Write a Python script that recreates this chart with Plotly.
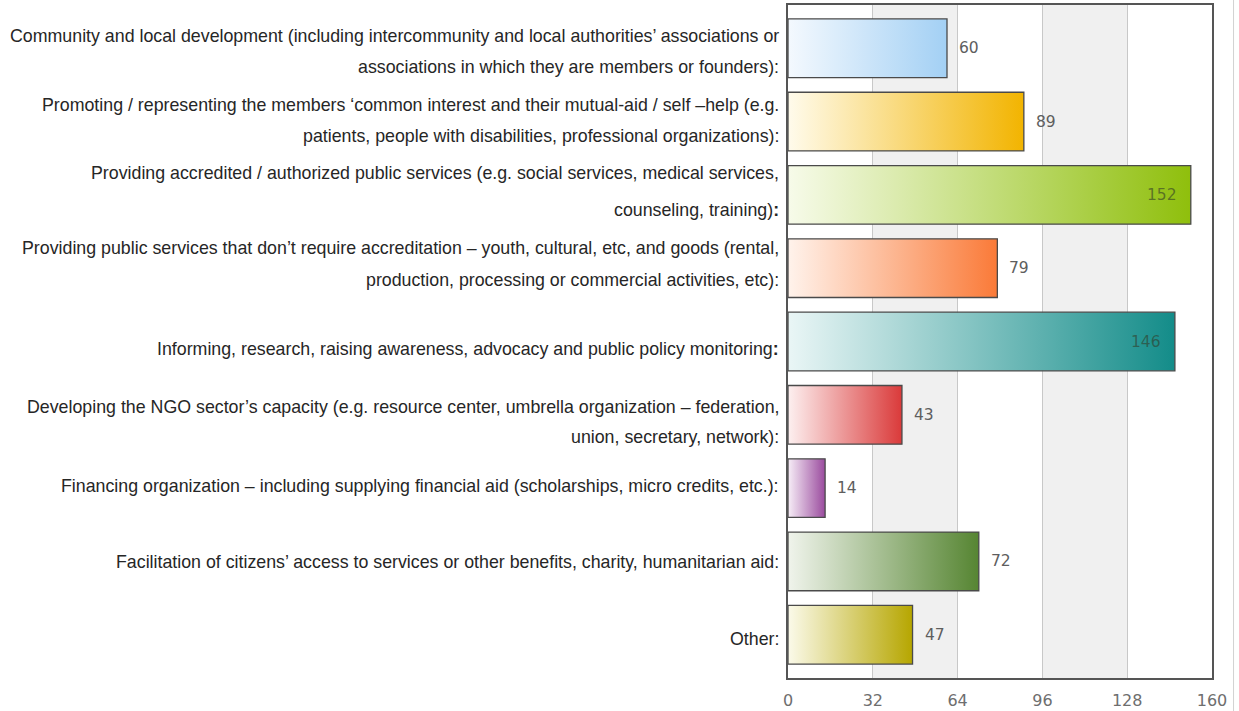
import plotly.graph_objects as go

# Activity areas of the organisations (top to bottom) and number of answers
categories = [
    "Community and local development (including intercommunity and local authorities\u2019 associations or<br>associations in which they are members or founders):",
    "Promoting / representing the members \u2018common interest and their mutual-aid / self \u2013help (e.g.<br>patients, people with disabilities, professional organizations):",
    "Providing accredited / authorized public services (e.g. social services, medical services,<br>counseling, training)<b>:</b>",
    "Providing public services that don\u2019t require accreditation \u2013 youth, cultural, etc, and goods (rental,<br>production, processing or commercial activities, etc):",
    "Informing, research, raising awareness, advocacy and public policy monitoring<b>:</b>",
    "Developing the NGO sector\u2019s capacity (e.g. resource center, umbrella organization \u2013 federation,<br>union, secretary, network):",
    "Financing organization \u2013 including supplying financial aid (scholarships, micro credits, etc.):",
    "Facilitation of citizens\u2019 access to services or other benefits, charity, humanitarian aid:",
    "Other:",
]
counts = [60, 89, 152, 79, 146, 43, 14, 72, 47]

x_ticks = [0, 32, 64, 96, 128, 160]

# Gradient colours of each bar: light start on the left, full colour on the right
bar_start_colors = ["#f4f9fe", "#fffbec", "#f7fbea", "#fff3ec", "#eaf6f6",
                    "#fdf0f0", "#f7eef7", "#f0f4ec", "#fbfaea"]
bar_end_colors = ["#a3d0f4", "#f2b400", "#8fbf0c", "#fa7a38", "#138c89",
                  "#da3a3a", "#9a4b9e", "#568532", "#b6a600"]

BAR_WIDTH = 0.8
# label block placement: vertical nudge (px, up is positive) and line spacing (px)
label_nudge = [-3, 1, 3, 4, -7, -7, 2.5, -1, -4.5]
label_gap = [31, 31, 37, 32, 31, 30, 31, 31, 31]

fig = go.Figure()

for i, (v, c0, c1) in enumerate(zip(counts, bar_start_colors, bar_end_colors)):
    y0, y1 = i - BAR_WIDTH / 2, i + BAR_WIDTH / 2
    fig.add_trace(go.Scatter(
        x=[0, v, v, 0, 0],
        y=[y0, y0, y1, y1, y0],
        mode="lines",
        fill="toself",
        fillgradient=dict(type="horizontal", colorscale=[[0, c0], [1, c1]]),
        line=dict(color="#4a4a4a", width=1.3),
        hoverinfo="skip",
        showlegend=False,
    ))

annotations = []
label_font = dict(family="Liberation Sans, Arial, sans-serif", size=17.8, color="#262626")
for i, label in enumerate(categories):
    lines = label.split("<br>")
    n = len(lines)
    gap = label_gap[i]
    for k, line in enumerate(lines):
        shift = (n - 1) / 2 * gap - k * gap + label_nudge[i]
        annotations.append(dict(
            x=0, xref="paper", y=i, yref="y",
            xanchor="right", yanchor="middle",
            xshift=-7, yshift=shift,
            text=line, showarrow=False, font=label_font,
        ))

# value labels: inside the bar end for long bars, otherwise just past the end
inside_limit = 0.85 * x_ticks[-1]
for i, v in enumerate(counts):
    inside = v > inside_limit
    annotations.append(dict(
        x=v, xref="x", y=i, yref="y",
        xanchor="right" if inside else "left", yanchor="middle",
        xshift=-12 if inside else 10,
        text=str(v), showarrow=False,
        font=dict(family="DejaVu Sans, Verdana, sans-serif", size=15.5,
                  color="rgba(50,60,40,0.6)" if inside else "#5e5e5e"),
    ))

shapes = []
# alternating shaded bands
for a, b in zip(x_ticks[1::2], x_ticks[2::2]):
    shapes.append(dict(type="rect", xref="x", yref="paper", x0=a, x1=b, y0=0, y1=1,
                       fillcolor="#f0f0f0", line=dict(width=0), layer="below"))
# thin separator on the far right
shapes.append(dict(type="line", xref="paper", yref="paper", x0=1.0508, x1=1.0508,
                   y0=-0.05, y1=1.01, line=dict(color="#d2d2d2", width=1)))

fig.update_layout(
    width=1239, height=711,
    margin=dict(l=788, r=27, t=5, b=33),
    paper_bgcolor="white", plot_bgcolor="white",
    annotations=annotations, shapes=shapes,
    xaxis=dict(
        range=[0, 160], tickvals=x_ticks, ticktext=[str(t) for t in x_ticks],
        showgrid=True, gridcolor="#c8c8c8", gridwidth=1, zeroline=False,
        showline=True, mirror=True, linecolor="#555555", linewidth=2,
        ticks="outside", ticklen=7, tickcolor="rgba(0,0,0,0)", automargin=False,
        tickfont=dict(family="DejaVu Sans, Verdana, sans-serif", size=16, color="#6e6e6e"),
    ),
    yaxis=dict(
        range=[len(counts) - 1 + 0.59, -0.59], automargin=False,
        showticklabels=False, showgrid=False, zeroline=False,
        showline=True, mirror=True, linecolor="#555555", linewidth=2,
    ),
)

fig.write_html("out.html")
